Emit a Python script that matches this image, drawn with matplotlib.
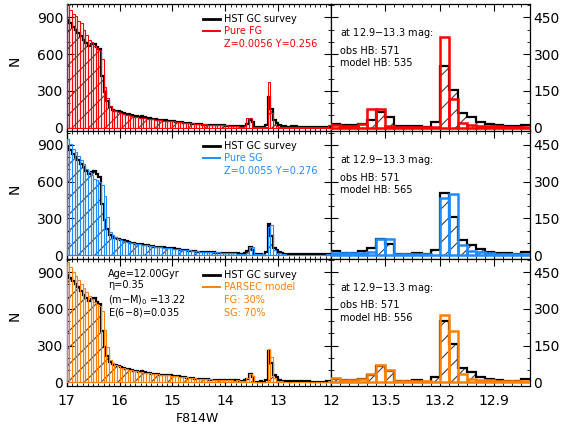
import matplotlib
matplotlib.use("Agg")
import matplotlib.pyplot as plt
import numpy as np
from matplotlib.ticker import MultipleLocator, FixedLocator, FormatStrFormatter

plt.rcParams['font.family'] = 'DejaVu Sans'
plt.rcParams['hatch.linewidth'] = 0.8

# F814W luminosity function, 0.05 mag bins, listed from 17.0 (faint) to 12.0 (bright)
bin_width = 0.05
mag_faint, mag_bright = 17.0, 12.0

obs_counts = [880, 855, 825, 800, 775, 745, 715, 690, 665, 680,
              685, 660, 640, 420, 290, 215, 165, 148, 138, 132,
              125, 120, 112, 108, 100, 96, 92, 88, 92, 85,
              80, 76, 72, 68, 66, 63, 62, 60, 58, 56,
              55, 50, 48, 45, 42, 38, 35, 32, 30, 28,
              26, 25, 24, 24, 22, 22, 20, 20, 18, 18,
              17, 17, 16, 16,
              15, 10, 10, 15, 30, 65, 45, 6, 5, 8, 3,
              22, 252, 155, 60, 42, 23, 14, 10, 7, 5, 12,
              10, 9, 8, 8, 7, 7, 6, 6, 6, 5, 5, 6, 7, 8]

fg_counts = [1030, 965, 930, 915, 870, 855, 800, 760, 720, 700,
             665, 650, 635, 560, 330, 240, 175, 148, 135, 125,
             118, 112, 106, 100, 95, 90, 86, 82, 80, 77,
             74, 71, 68, 65, 62, 60, 58, 56, 55, 53,
             52, 50, 47, 45, 42, 40, 37, 34, 32, 30,
             28, 27, 26, 25, 24, 23, 22, 21, 20, 19,
             18, 17, 16, 15,
             11, 7, 7, 13, 78, 75, 5, 4, 4, 4, 3,
             2, 370, 116, 19, 12, 8, 5, 5, 4, 3, 4,
             4, 4, 4, 3, 3, 3, 3, 3, 3, 4, 4, 5, 7, 25]

sg_counts = [945, 905, 870, 840, 805, 775, 740, 705, 675, 650,
             625, 615, 600, 575, 480, 310, 190, 160, 145, 132,
             122, 116, 110, 104, 100, 95, 92, 88, 85, 82,
             78, 75, 72, 69, 66, 63, 60, 58, 56, 54,
             52, 50, 47, 45, 42, 40, 37, 35, 33, 30,
             28, 27, 26, 25, 24, 23, 22, 21, 20, 19,
             18, 16, 15, 13,
             9, 9, 9, 9, 13, 65, 65, 5, 5, 5, 5,
             2, 232, 248, 39, 18, 13, 9, 5, 3, 3, 3,
             3, 3, 3, 3, 3, 3, 3, 3, 3, 3, 4, 4, 5, 6]

mix_counts = [980, 945, 900, 870, 835, 805, 770, 740, 705, 680,
              655, 640, 620, 580, 430, 290, 185, 157, 142, 130,
              121, 115, 109, 103, 98, 93, 90, 86, 83, 80,
              77, 74, 71, 68, 65, 62, 59, 57, 56, 54,
              52, 50, 47, 45, 42, 40, 37, 35, 33, 30,
              28, 27, 26, 25, 24, 23, 22, 21, 20, 19,
              18, 16, 15, 14,
              17, 10, 10, 14, 34, 72, 49, 4, 4, 4, 4,
              2, 275, 209, 34, 14, 10, 8, 4, 4, 4, 4,
              3, 3, 3, 3, 3, 3, 3, 3, 3, 3, 4, 4, 6, 12]

model_colors = ['#ff0000', '#1e8cff', '#ff8000']
model_labels = ['Pure FG', 'Pure SG', 'PARSEC model']
model_extra = [['Z=0.0056 Y=0.256'], ['Z=0.0055 Y=0.276'], ['FG: 30%', 'SG: 70%']]
obs_hb = 571
model_hb = [535, 565, 556]
fit_params = ['Age=12.00Gyr', 'η=0.35', '(m$-$M)$_0$ =13.22', 'E(6$-$8)=0.035']

n_bins = len(obs_counts)
edges = mag_faint - bin_width * np.arange(n_bins + 1)
centers = edges[:-1] - bin_width / 2
edges_up = edges[::-1]


def style_axes(ax, right_side, bottom_row):
    ax.tick_params(which='both', direction='in', top=True, bottom=True,
                   left=True, right=True, labelsize=10)
    ax.tick_params(axis='x', pad=6)
    ax.tick_params(axis='y', pad=2.5)
    ax.tick_params(which='major', length=5, width=0.8)
    ax.tick_params(which='minor', length=2.5, width=0.6)
    for sp in ax.spines.values():
        sp.set_linewidth(0.9)
    if right_side:
        ax.xaxis.set_major_locator(FixedLocator([13.5, 13.2, 12.9]))
        ax.xaxis.set_major_formatter(FormatStrFormatter('%.1f'))
        ax.xaxis.set_minor_locator(MultipleLocator(0.05))
        ax.yaxis.set_major_locator(FixedLocator([0, 150, 300, 450]))
        ax.yaxis.set_minor_locator(MultipleLocator(50))
        ax.tick_params(labelleft=False, labelright=True)
        ax.set_xlim(13.8, 12.7)
        ax.set_ylim(-15, 505)
    else:
        ax.xaxis.set_major_locator(MultipleLocator(1))
        ax.xaxis.set_major_formatter(FormatStrFormatter('%d'))
        ax.xaxis.set_minor_locator(MultipleLocator(0.1))
        ax.yaxis.set_major_locator(FixedLocator([0, 300, 600, 900]))
        ax.yaxis.set_minor_locator(MultipleLocator(100))
        ax.set_xlim(17, 12)
        ax.set_ylim(-30, 1010)
    if not bottom_row:
        ax.tick_params(labelbottom=False)


def draw_hist(ax, model, color, lw_model, lw_obs):
    ax.bar(centers, obs_counts, width=bin_width, facecolor='none',
           edgecolor='0.25', hatch='//', linewidth=0, zorder=1)
    ax.stairs(obs_counts[::-1], edges_up, color='black', lw=lw_obs, zorder=2)
    ax.bar(centers, model, width=bin_width, facecolor='none',
           edgecolor=color, linewidth=lw_model, zorder=3)


fig = plt.figure(figsize=(5.63, 4.32), dpi=100)
row_bottoms = [0.696, 0.4012, 0.1065]
row_height = 0.2947
models = [fg_counts, sg_counts, mix_counts]

for row in range(3):
    color = model_colors[row]
    bottom_row = row == 2
    axl = fig.add_axes([0.1185, row_bottoms[row], 0.4695, row_height])
    axr = fig.add_axes([0.588, row_bottoms[row], 0.3535, row_height])

    draw_hist(axl, models[row], color, 0.8, 1.6)
    draw_hist(axr, models[row], color, 1.8, 1.6)
    style_axes(axl, False, bottom_row)
    style_axes(axr, True, bottom_row)

    # legend block drawn by hand
    y0 = 0.885 if row < 2 else 0.872
    dy = 0.097
    axl.plot([0.516, 0.58], [y0, y0], color='black', lw=2, transform=axl.transAxes)
    axl.plot([0.516, 0.58], [y0 - dy, y0 - dy], color=color, lw=1.4, transform=axl.transAxes)
    axl.text(0.595, y0, 'HST GC survey', transform=axl.transAxes, fontsize=7, va='center')
    axl.text(0.595, y0 - dy, model_labels[row], transform=axl.transAxes, fontsize=7,
             va='center', color=color)
    for j, line in enumerate(model_extra[row]):
        axl.text(0.595, y0 - dy * (2 + j) - 0.005, line, transform=axl.transAxes,
                 fontsize=7, va='center', color=color)

    axr.text(0.045, 0.772, 'at 12.9$-$13.3 mag:', transform=axr.transAxes, fontsize=7, va='center')
    axr.text(0.045, 0.633, 'obs HB: %d' % obs_hb, transform=axr.transAxes, fontsize=7, va='center')
    axr.text(0.045, 0.537, 'model HB: %d' % model_hb[row], transform=axr.transAxes, fontsize=7,
             va='center')

    fig.text(15 / 563, row_bottoms[row] + row_height * 0.55, 'N', rotation=90,
             fontsize=10, ha='center', va='center')

    if bottom_row:
        for j, line in enumerate(fit_params):
            axl.text(0.156, [0.88, 0.793, 0.676, 0.581][j], line, transform=axl.transAxes,
                     fontsize=7, va='center')

fig.text(197.5 / 563, 1 - 418 / 432, 'F814W', fontsize=9, ha='center', va='center')

fig.savefig('out.png', dpi=100)
